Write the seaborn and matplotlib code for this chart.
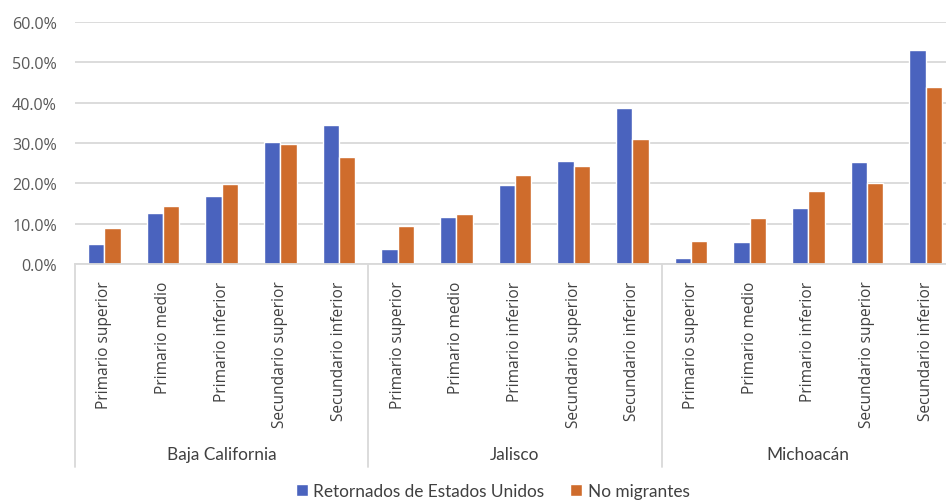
import matplotlib
matplotlib.use("Agg")
import matplotlib.pyplot as plt
import matplotlib.transforms as mtransforms
from matplotlib.patches import Patch
import seaborn as sns
import pandas as pd

regions = ["Baja California", "Jalisco", "Michoacán"]
levels = ["Primario superior", "Primario medio", "Primario inferior",
          "Secundario superior", "Secundario inferior"]
series_names = ["Retornados de Estados Unidos", "No migrantes"]

retornados = [0.050, 0.126, 0.169, 0.302, 0.345,
              0.037, 0.117, 0.196, 0.255, 0.387,
              0.016, 0.054, 0.139, 0.252, 0.530]
no_migrantes = [0.089, 0.143, 0.198, 0.298, 0.266,
                0.093, 0.125, 0.221, 0.242, 0.311,
                0.058, 0.113, 0.180, 0.202, 0.438]

colors = ["#4A63BE", "#CF6C2C"]
ytick_values = [0.0, 0.1, 0.2, 0.3, 0.4, 0.5, 0.6]

cats = [f"{r}|{l}" for r in regions for l in levels]
rows = []
for i, c in enumerate(cats):
    rows.append({"cat": c, "serie": series_names[0], "valor": retornados[i]})
    rows.append({"cat": c, "serie": series_names[1], "valor": no_migrantes[i]})
df = pd.DataFrame(rows)

sns.set_theme(style="white")
plt.rcParams["font.family"] = ["Open Sans", "DejaVu Sans"]

W, H = 946, 502
fig = plt.figure(figsize=(W / 100, H / 100), dpi=100)
ax_left, ax_right = 75, 955
ax_top, ax_bottom = 23, 265
ax = fig.add_axes([ax_left / W, 1 - ax_bottom / H, (ax_right - ax_left) / W, (ax_bottom - ax_top) / H])

sns.barplot(data=df, x="cat", y="valor", hue="serie", order=cats,
            hue_order=series_names, palette=colors, width=0.56, gap=0,
            saturation=1, ax=ax, legend=False, errorbar=None)

ax.set_ylim(0, 0.6)
ax.set_xlim(-0.5, len(cats) - 0.5)
ax.set_yticks(ytick_values)
ax.set_yticklabels([f"{v*100:.1f}%" for v in ytick_values])
ax.yaxis.grid(True, color="#D9D9D9", linewidth=1.3)
ax.set_axisbelow(True)
for s in ["top", "right", "left"]:
    ax.spines[s].set_visible(False)
ax.spines["bottom"].set_color("#D9D9D9")
ax.spines["bottom"].set_linewidth(1.3)
ax.set_xlabel("")
ax.set_ylabel("")

ax.set_xticks(range(len(cats)))
ax.set_xticklabels([c.split("|")[1] for c in cats], rotation=90, va="top",
                   ha="center", fontsize=11.2, color="#404040")
ax.tick_params(axis="x", length=0, pad=12)
ax.tick_params(axis="y", length=0, pad=13, labelsize=11.6, labelcolor="#595959")

axh = ax_bottom - ax_top
trans = mtransforms.blended_transform_factory(ax.transData, ax.transAxes)
sep_bottom = -(468 - ax_bottom) / axh
for xs in [-0.5, 4.5, 9.5, 14.5]:
    ax.plot([xs, xs], [0, sep_bottom], transform=trans, color="#D9D9D9",
            linewidth=1.3, clip_on=False)
lab_y = -(455 - ax_bottom) / axh
for k, r in enumerate(regions):
    ax.text(k * 5 + 2, lab_y, r, transform=trans, ha="center", va="center",
            fontsize=12.4, color="#404040", family=["Lato", "DejaVu Sans"])

handles = [Patch(facecolor=colors[0]), Patch(facecolor=colors[1])]
fig.legend(handles, series_names, loc="center", bbox_to_anchor=(0.521, 0.02),
           ncol=2, frameon=False, handlelength=0.7, handleheight=0.7,
           handletextpad=0.3, columnspacing=1.5,
           prop={"family": ["Lato", "DejaVu Sans"], "size": 12.4},
           labelcolor="#404040")

fig.savefig("out.png", dpi=100)
